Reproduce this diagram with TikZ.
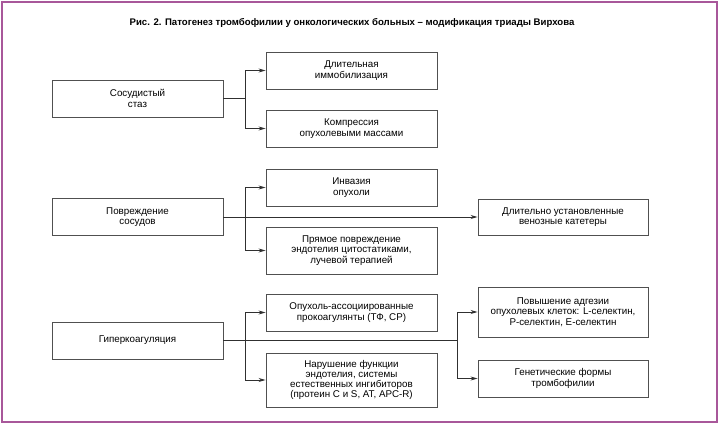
\documentclass[tikz,border=0pt]{standalone}
\usepackage{fontspec}
\setmainfont{Liberation Sans}
\usetikzlibrary{arrows.meta}
\definecolor{framepurple}{HTML}{A8579A}
\definecolor{boxgray}{HTML}{505050}
\definecolor{linegray}{HTML}{303030}
\begin{document}
\begin{tikzpicture}[x=1pt,y=-1pt,
  box/.style={draw=boxgray,line width=0.9pt,minimum width=171pt,inner sep=0pt,align=center,
    font=\fontsize{9.8}{10.3}\selectfont,text=black},
  conn/.style={draw=linegray,line width=0.9pt},
  arr/.style={conn,-{Stealth[length=7pt,width=4pt]}}]
\useasboundingbox (0,0) rectangle (720,425);
\draw[framepurple,line width=2pt] (2,2) rectangle (717,422);
\node[font=\bfseries\fontsize{9.6}{11}\selectfont] (title) at (352,23) {Рис. 2. Патогенез тромбофилии у онкологических больных – модификация триады Вирхова};
% left
\node[box,minimum height=37pt] (A) at (137.5,98.5) {Сосудистый\\стаз};
\node[box,minimum height=37pt] (B) at (137.5,217) {Повреждение\\сосудов};
\node[box,minimum height=37pt] (C) at (137.5,340.5) {Гиперкоагуляция};
% middle
\node[box,minimum height=37pt] (A1) at (351.5,70.5) {Длительная\\иммобилизация};
\node[box,minimum height=37pt] (A2) at (351.5,128.5) {Компрессия\\опухолевыми массами};
\node[box,minimum height=37pt] (B1) at (351.5,187.5) {Инвазия\\опухоли};
\node[box,minimum height=47pt] (B2) at (351.5,250.5) {Прямое повреждение\\эндотелия цитостатиками,\\лучевой терапией};
\node[box,minimum height=37pt] (C1) at (351.5,312.5) {Опухоль-ассоциированные\\прокоагулянты (ТФ, СР)};
\node[box,minimum height=54pt] (C2) at (351.5,380) {Нарушение функции\\эндотелия, системы\\естественных ингибиторов\\(протеин С и S, АТ, АРС-R)};
% right
\node[box,minimum width=170pt,minimum height=36pt] (R1) at (563,217) {Длительно установленные\\венозные катетеры};
\node[box,minimum width=170pt,minimum height=50pt] (R2) at (563,312) {Повышение адгезии\\опухолевых клеток: L-селектин,\\Р-селектин, Е-селектин};
\node[box,minimum width=170pt,minimum height=37pt] (R3) at (563,378.5) {Генетические формы\\тромбофилии};
% junctions
\coordinate (jA) at (245,98.5);
\coordinate (jB) at (245,217);
\coordinate (jC) at (245,340.5);
\coordinate (jR) at (457,340.5);
% connectors
\draw[conn] (A.east) -- (jA);
\draw[arr] (jA) |- (A1.west);
\draw[arr] (jA) |- (A2.west);
\draw[arr] (B.east) -- (R1.west);
\draw[arr] (jB) |- (B1.west);
\draw[arr] (jB) |- (B2.west);
\draw[conn] (C.east) -- (jR);
\draw[arr] (jC) |- (C1.west);
\draw[arr] (jC) |- (C2.west);
\draw[arr] (jR) |- (R2.west);
\draw[arr] (jR) |- (R3.west);
\end{tikzpicture}
\end{document}
